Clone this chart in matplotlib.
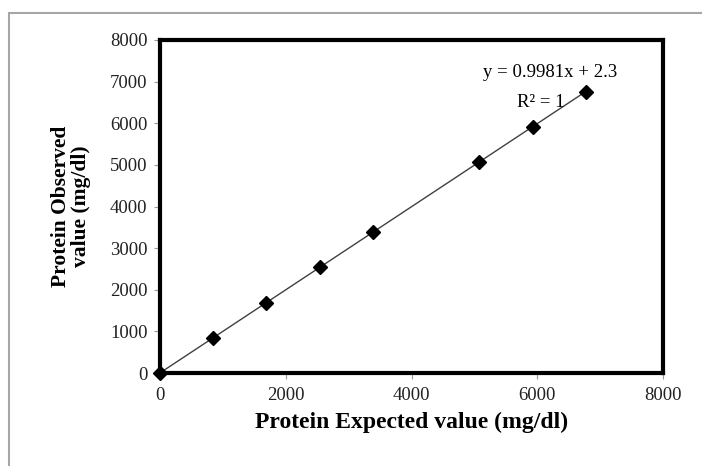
import matplotlib
matplotlib.use("Agg")
import matplotlib.pyplot as plt
from matplotlib.patches import Rectangle

# Values
expected = [0, 845, 1690, 2540, 3385, 5080, 5925, 6770]
observed = [0, 843, 1688, 2537, 3382, 5072, 5916, 6760]
ticks = [0, 1000, 2000, 3000, 4000, 5000, 6000, 7000, 8000]
xticks = [0, 2000, 4000, 6000, 8000]
slope, intercept = 0.9981, 2.3

plt.rcParams['font.family'] = ['Liberation Serif', 'DejaVu Serif']

fig = plt.figure(figsize=(7.02, 4.66), dpi=100)
ax = fig.add_axes([160 / 702, 1 - 373 / 466, 503 / 702, 333 / 466])

# trendline over the data range
fit = [slope * x + intercept for x in (expected[0], expected[-1])]
ax.plot((expected[0], expected[-1]), fit, '-', color='#404040', lw=1.0, zorder=2)
ax.plot(expected, observed, 'D', color='black', markersize=7.5, zorder=3, clip_on=False)

ax.set_xlim(0, 8000)
ax.set_ylim(0, 8000)
ax.set_xticks(xticks)
ax.set_yticks(ticks)
ax.tick_params(labelsize=13.5, length=4, width=0.8, color='#999999', labelcolor='#222222')
ax.tick_params(axis='y', pad=5)
ax.tick_params(axis='x', pad=6)

for side in ax.spines.values():
    side.set_linewidth(3.0)
    side.set_color('black')

ax.set_xlabel("Protein Expected value (mg/dl)", fontsize=17, fontweight='bold', labelpad=6)
ax.set_ylabel("Protein Observed\nvalue (mg/dl)", fontsize=15.5, fontweight='bold',
              labelpad=14, linespacing=1.0)

ax.text(6210, 7230, "y = 0.9981x + 2.3", ha='center', va='center', fontsize=13.5)
ax.text(6060, 6500, "R² = 1", ha='center', va='center', fontsize=13.5)

# gray outer frame of the figure
fig.patches.append(Rectangle((9 / 702, -0.05), 1.1, 1 - 13 / 466 + 0.05,
                             transform=fig.transFigure, fill=False,
                             edgecolor='#a6a6a6', lw=1.5))

fig.savefig("out.png", dpi=100)
